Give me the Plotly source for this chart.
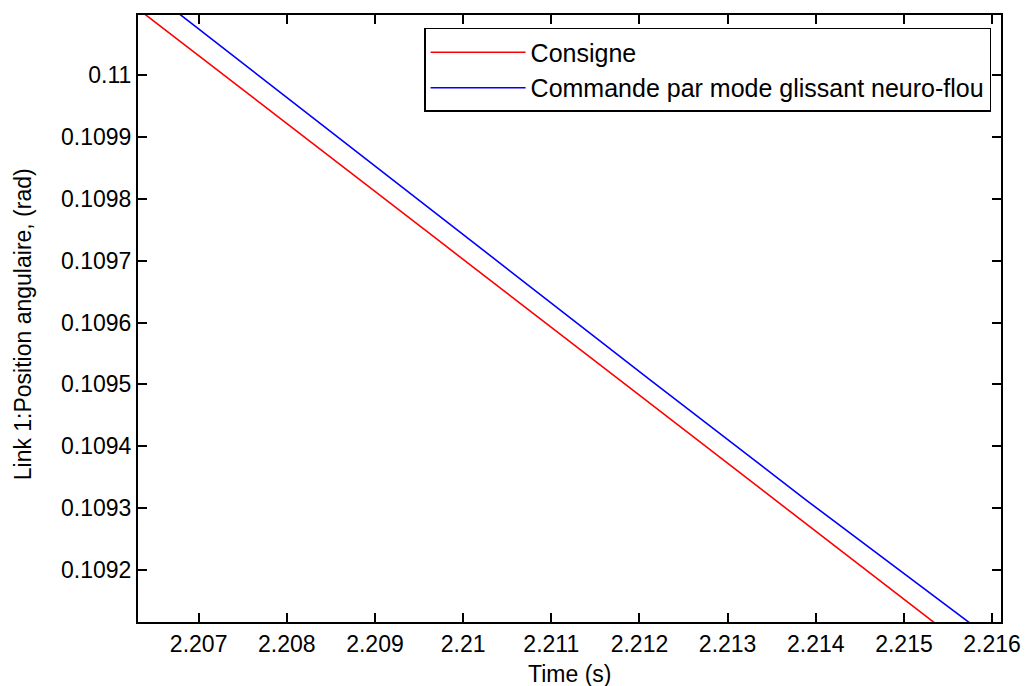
import plotly.graph_objects as go

# Data
t_consigne = [2.2060, 2.206402, 2.209718, 2.211767, 2.213778, 2.215335, 2.2162]
y_consigne = [0.110141, 0.110097, 0.109733, 0.109508, 0.109287, 0.109116, 0.109021]

t_commande = [2.2063, 2.206797, 2.210076, 2.212124, 2.213891, 2.215735, 2.2162]
y_commande = [0.110152, 0.110097, 0.109733, 0.109507, 0.109313, 0.109116, 0.109066]

x_ticks = [2.207, 2.208, 2.209, 2.21, 2.211, 2.212, 2.213, 2.214, 2.215, 2.216]
x_ticklabels = ["2.207", "2.208", "2.209", "2.21", "2.211", "2.212", "2.213", "2.214", "2.215", "2.216"]
y_ticks = [0.1092, 0.1093, 0.1094, 0.1095, 0.1096, 0.1097, 0.1098, 0.1099, 0.11]
y_ticklabels = ["0.1092", "0.1093", "0.1094", "0.1095", "0.1096", "0.1097", "0.1098", "0.1099", "0.11"]

x_range = [2.206312, 2.216101]
y_range = [0.1091160, 0.1100970]

FONT = "Liberation Sans, Arial, sans-serif"
FS = 23
FS_LEG = 25

fig = go.Figure()
fig.add_trace(go.Scatter(x=t_consigne, y=y_consigne, mode="lines", name="Consigne",
                         line=dict(color="#ff0000", width=1.6)))
fig.add_trace(go.Scatter(x=t_commande, y=y_commande, mode="lines",
                         name="Commande par mode glissant neuro-flou",
                         line=dict(color="#0000ff", width=1.6)))

axis_common = dict(showgrid=False, zeroline=False, showline=True, linecolor="black",
                   linewidth=2, mirror="ticks", ticks="inside", ticklen=9, tickwidth=1.5,
                   tickcolor="black", tickfont=dict(family=FONT, size=FS, color="black"))

fig.update_layout(
    width=1033, height=686,
    margin=dict(l=138, r=27, t=15, b=64),
    paper_bgcolor="white", plot_bgcolor="white",
    font=dict(family=FONT, size=FS, color="black"),
    xaxis=dict(range=x_range, tickvals=x_ticks, ticktext=x_ticklabels, **axis_common),
    yaxis=dict(range=y_range, tickvals=y_ticks, ticktext=y_ticklabels, **axis_common),
    showlegend=True,
    legend=dict(x=0.9885, y=0.9786, xanchor="right", yanchor="top",
                bgcolor="white", bordercolor="black", borderwidth=1.5,
                font=dict(family=FONT, size=FS_LEG, color="black"), itemwidth=95),
)
fig.add_annotation(text="Time (s)", xref="paper", yref="paper", x=0.5, y=-0.086,
                   xanchor="center", yanchor="middle", showarrow=False,
                   font=dict(family=FONT, size=FS, color="black"))
fig.add_annotation(text="Link 1:Position angulaire, (rad)", xref="paper", yref="paper",
                   x=-0.1336, y=0.49, xanchor="center", yanchor="middle", textangle=-90,
                   showarrow=False, font=dict(family=FONT, size=FS, color="black"))

fig.write_html("out.html")
